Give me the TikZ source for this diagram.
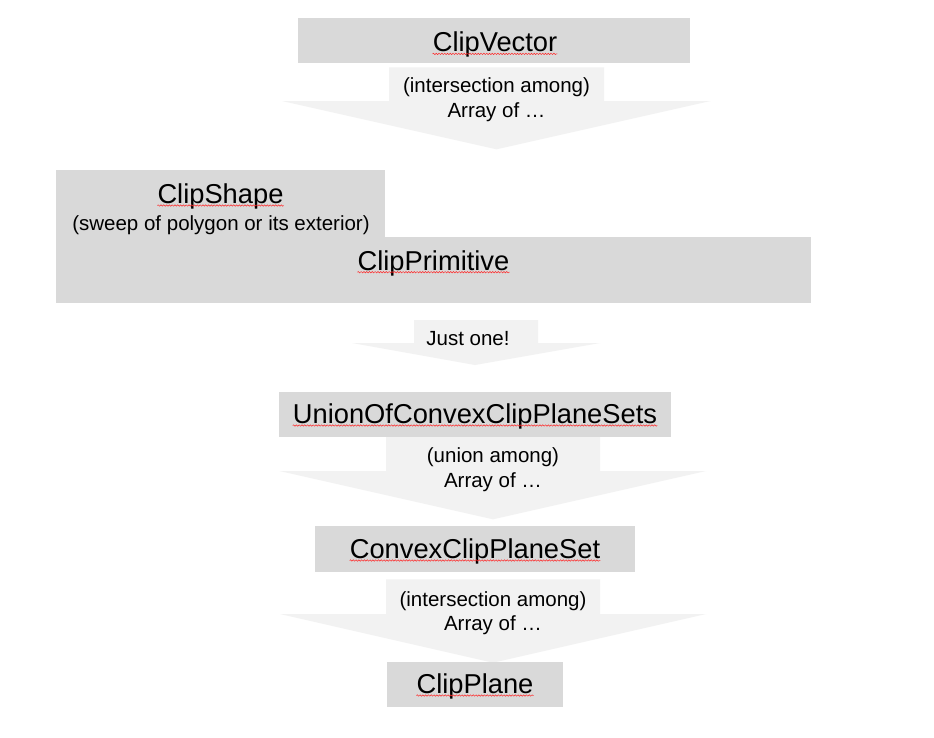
\documentclass[tikz,border=0pt]{standalone}
\usepackage{fontspec}
\setmainfont{Liberation Sans}
\usetikzlibrary{positioning, calc, decorations.pathmorphing}
\definecolor{boxgray}{HTML}{D9D9D9}
\definecolor{arrowgray}{HTML}{F2F2F2}
\tikzset{
  classbox/.style={fill=boxgray, draw=none, inner sep=0pt, outer sep=0pt},
  blockarrow/.style={fill=arrowgray, draw=none},
  classname/.style={inner sep=0pt, anchor=base, font=\fontsize{27.3}{30}\selectfont},
  note/.style={inner sep=0pt, anchor=base, align=center, font=\fontsize{20.5}{24.6}\selectfont},
  typo/.style={draw=red!85!white, line width=0.5pt, decorate,
    decoration={snake, amplitude=0.7pt, segment length=2.8pt}}
}

\begin{document}
\begin{tikzpicture}[x=1pt, y=-1pt]
    \fill[white] (0,0) rectangle (934,737);
    \useasboundingbox (0,0) rectangle (934,737);

    % Block arrows
    \fill[blockarrow] (389,67.3) -- (604,67.3) -- (604,101) -- (710.5,101) -- (496.5,149.3)
      -- (282,101) -- (389,101) -- cycle;
    \fill[blockarrow] (414,320) -- (538,320) -- (538,343) -- (600,343) -- (475,365)
      -- (352,343) -- (414,343) -- cycle;
    \fill[blockarrow] (386,436) -- (600,436) -- (600,471) -- (706,471) -- (493,519.3)
      -- (279.5,471) -- (386,471) -- cycle;
    \fill[blockarrow] (386,579.3) -- (600,579.3) -- (600,614) -- (706,614) -- (493,662.7)
      -- (280,614) -- (386,614) -- cycle;

    % Boxes
    \node[classbox, minimum width=392pt, minimum height=45pt] (cvbox) at (494,40.8) {};
    \node[classbox, minimum width=329pt, minimum height=67.5pt] (shapebox) at (220.5,203.75) {};
    \node[classbox, minimum width=755pt, minimum height=66pt] (primbox) at (433.5,269.7) {};
    \node[classbox, minimum width=391.7pt, minimum height=44.4pt] (unionbox) at (474.85,414.5) {};
    \node[classbox, minimum width=320pt, minimum height=45.7pt] (ccpsbox) at (475,548.85) {};
    \node[classbox, minimum width=176pt, minimum height=45pt] (planebox) at (474.7,684.8) {};

    % Class names
    \node[classname] (cv) at (495,51.7) {ClipVector};
    \node[classname] (shape) at (220.5,203.3) {ClipShape};
    \node[classname] (prim) at (433.5,270) {ClipPrimitive};
    \node[classname] (union) at (475,423.3) {UnionOfConvexClipPlaneSets};
    \node[classname] (ccps) at (475,558.3) {ConvexClipPlaneSet};
    \node[classname] (plane) at (475,693.3) {ClipPlane};

    % Notes (anchored on the last line)
    \node[note] (sweep) at (221,230) {(sweep of polygon or its exterior)};
    \node[note] (cvnote) at (496.5,117.3) {(intersection among)\\Array of …};
    \node[note] (primnote) at (468,345) {Just one!};
    \node[note] (unionnote) at (493,487.3) {(union among)\\Array of …};
    \node[note] (ccpsnote) at (493,630.6) {(intersection among)\\Array of …};

    % Spelling marks
    \foreach \n in {cv, shape, prim, union, ccps, plane}
      \draw[typo] ([yshift=-2.2pt]\n.base west) -- ([yshift=-2.2pt]\n.base east);

\end{tikzpicture}
\end{document}
